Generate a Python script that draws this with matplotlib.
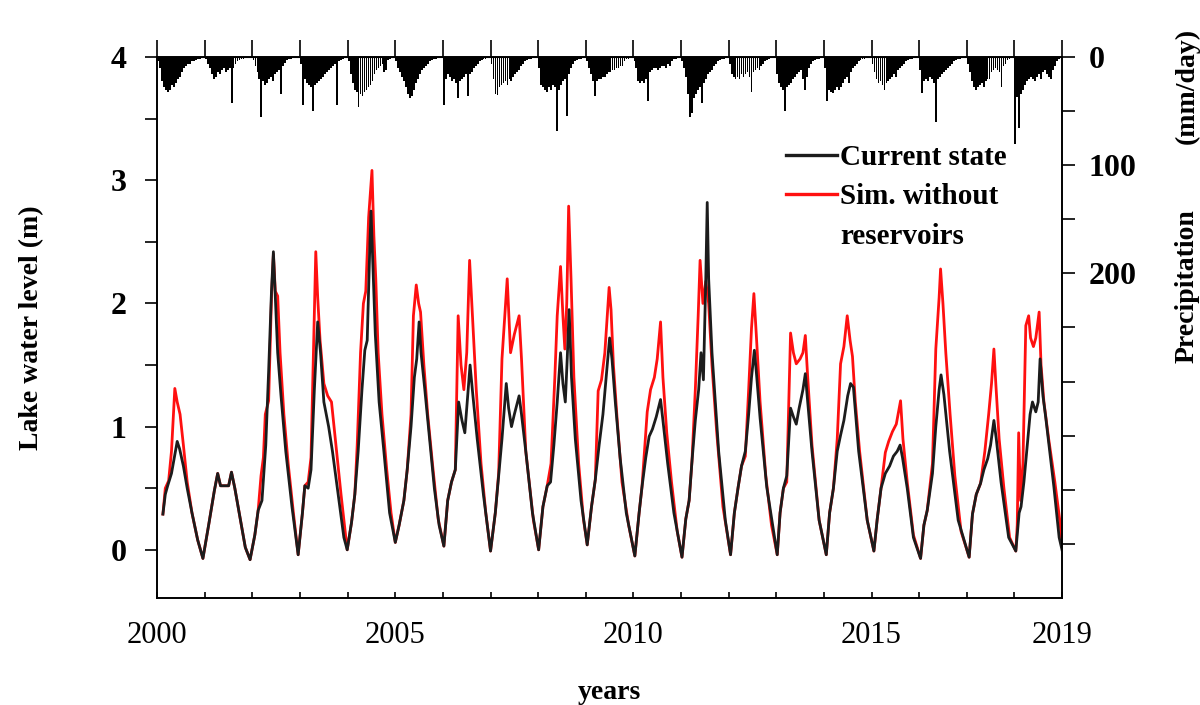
import numpy as np
import matplotlib.pyplot as plt
from matplotlib.lines import Line2D

plt.rcParams['font.family'] = ['Liberation Serif', 'DejaVu Serif']

# 湖泊水位（m）：现状
t_current = [
    2000.12, 2000.17, 2000.22, 2000.30, 2000.36, 2000.42, 2000.47, 2000.55, 2000.63, 2000.73, 2000.85, 2000.96,
    2001.08, 2001.20, 2001.27, 2001.33, 2001.50, 2001.56, 2001.63, 2001.73, 2001.85, 2001.95,
    2002.05, 2002.12, 2002.20, 2002.28, 2002.34, 2002.40, 2002.44, 2002.48, 2002.53, 2002.60, 2002.70, 2002.83, 2002.96,
    2003.05, 2003.10, 2003.17, 2003.23, 2003.30, 2003.37, 2003.43, 2003.50, 2003.60, 2003.68, 2003.80, 2003.92, 2003.99,
    2004.08, 2004.15, 2004.22, 2004.30, 2004.36, 2004.41, 2004.46, 2004.49, 2004.53, 2004.58, 2004.66, 2004.76, 2004.88, 2005.00,
    2005.08, 2005.18, 2005.25, 2005.33, 2005.40, 2005.45, 2005.50, 2005.54, 2005.62, 2005.72, 2005.82, 2005.92, 2006.02,
    2006.10, 2006.18, 2006.26, 2006.33, 2006.40, 2006.46, 2006.52, 2006.57, 2006.63, 2006.72, 2006.85, 2007.00,
    2007.10, 2007.17, 2007.24, 2007.33, 2007.38, 2007.44, 2007.50, 2007.60, 2007.65, 2007.74, 2007.88, 2008.01,
    2008.10, 2008.19, 2008.26, 2008.33, 2008.40, 2008.47, 2008.52, 2008.57, 2008.61, 2008.65, 2008.70, 2008.78, 2008.90, 2009.03,
    2009.12, 2009.20, 2009.28, 2009.36, 2009.44, 2009.50, 2009.55, 2009.62, 2009.72, 2009.85, 2010.03,
    2010.12, 2010.18, 2010.26, 2010.33, 2010.40, 2010.48, 2010.57, 2010.62, 2010.72, 2010.85, 2011.02,
    2011.10, 2011.17, 2011.23, 2011.30, 2011.37, 2011.42, 2011.47, 2011.52, 2011.55, 2011.58, 2011.65, 2011.79, 2011.93, 2012.04,
    2012.12, 2012.20, 2012.27, 2012.35, 2012.42, 2012.48, 2012.54, 2012.58, 2012.66, 2012.80, 2013.02,
    2013.08, 2013.15, 2013.22, 2013.30, 2013.36, 2013.42, 2013.48, 2013.56, 2013.61, 2013.66, 2013.75, 2013.90, 2014.05,
    2014.12, 2014.20, 2014.28, 2014.35, 2014.42, 2014.50, 2014.56, 2014.62, 2014.73, 2014.91, 2015.05,
    2015.12, 2015.20, 2015.29, 2015.38, 2015.46, 2015.54, 2015.60, 2015.65, 2015.75, 2015.88, 2016.03,
    2016.10, 2016.17, 2016.28, 2016.35, 2016.42, 2016.46, 2016.52, 2016.64, 2016.82, 2017.05,
    2017.12, 2017.20, 2017.29, 2017.36, 2017.44, 2017.50, 2017.57, 2017.62, 2017.72, 2017.88, 2018.03,
    2018.10, 2018.14, 2018.20, 2018.27, 2018.33, 2018.38, 2018.45, 2018.50, 2018.54, 2018.60, 2018.66, 2018.83, 2018.94, 2019.00,
]
level_current = [
    0.29, 0.45, 0.52, 0.62, 0.75, 0.88, 0.82, 0.68, 0.50, 0.30, 0.08, -0.07,
    0.20, 0.48, 0.62, 0.52, 0.52, 0.63, 0.50, 0.28, 0.02, -0.08,
    0.12, 0.32, 0.40, 0.85, 1.45, 2.10, 2.42, 2.05, 1.60, 1.25, 0.80, 0.35, -0.04,
    0.30, 0.52, 0.50, 0.65, 1.30, 1.85, 1.60, 1.20, 1.00, 0.80, 0.45, 0.10, 0.00,
    0.22, 0.45, 0.80, 1.30, 1.62, 1.70, 2.40, 2.75, 2.30, 1.75, 1.20, 0.80, 0.30, 0.06,
    0.20, 0.40, 0.65, 1.00, 1.40, 1.55, 1.85, 1.60, 1.30, 0.90, 0.50, 0.20, 0.03,
    0.40, 0.55, 0.65, 1.20, 1.05, 0.95, 1.25, 1.50, 1.25, 0.90, 0.45, -0.01,
    0.30, 0.60, 0.90, 1.35, 1.15, 1.00, 1.10, 1.25, 1.10, 0.80, 0.30, 0.00,
    0.35, 0.52, 0.55, 0.85, 1.20, 1.60, 1.35, 1.20, 1.55, 1.95, 1.40, 0.90, 0.40, 0.04,
    0.35, 0.57, 0.85, 1.10, 1.45, 1.72, 1.55, 1.20, 0.75, 0.30, -0.05,
    0.30, 0.51, 0.75, 0.92, 0.98, 1.08, 1.22, 1.05, 0.70, 0.30, -0.06,
    0.25, 0.40, 0.72, 1.05, 1.30, 1.60, 1.38, 2.20, 2.82, 2.20, 1.60, 0.80, 0.24, -0.04,
    0.30, 0.51, 0.68, 0.80, 1.10, 1.40, 1.62, 1.45, 1.07, 0.51, -0.04,
    0.30, 0.50, 0.60, 1.15, 1.08, 1.02, 1.15, 1.30, 1.43, 1.20, 0.80, 0.24, -0.04,
    0.30, 0.50, 0.80, 0.93, 1.05, 1.25, 1.35, 1.32, 0.80, 0.24, -0.01,
    0.25, 0.50, 0.62, 0.68, 0.76, 0.80, 0.85, 0.75, 0.50, 0.10, -0.07,
    0.20, 0.32, 0.62, 1.00, 1.30, 1.42, 1.26, 0.80, 0.24, -0.06,
    0.29, 0.45, 0.54, 0.65, 0.74, 0.85, 1.05, 0.90, 0.55, 0.10, -0.01,
    0.30, 0.35, 0.55, 0.85, 1.10, 1.20, 1.12, 1.20, 1.55, 1.25, 1.07, 0.51, 0.10, 0.00,
]

# 湖泊水位（m）：无水库情景模拟
t_sim = [
    2000.12, 2000.17, 2000.24, 2000.30, 2000.37, 2000.42, 2000.48, 2000.55, 2000.63, 2000.73, 2000.85, 2000.96,
    2001.08, 2001.20, 2001.27, 2001.33, 2001.50, 2001.56, 2001.63, 2001.73, 2001.85, 2001.95,
    2002.05, 2002.12, 2002.18, 2002.23, 2002.27, 2002.34, 2002.40, 2002.44, 2002.48, 2002.53, 2002.58, 2002.66, 2002.75, 2002.86, 2002.96,
    2003.05, 2003.10, 2003.17, 2003.23, 2003.28, 2003.33, 2003.37, 2003.42, 2003.50, 2003.58, 2003.66, 2003.74, 2003.86, 2003.99,
    2004.08, 2004.15, 2004.20, 2004.27, 2004.33, 2004.38, 2004.44, 2004.51, 2004.55, 2004.59, 2004.64, 2004.72, 2004.82, 2004.91, 2005.00,
    2005.08, 2005.18, 2005.25, 2005.33, 2005.38, 2005.44, 2005.49, 2005.53, 2005.60, 2005.68, 2005.78, 2005.90, 2006.02,
    2006.10, 2006.18, 2006.26, 2006.32, 2006.38, 2006.44, 2006.50, 2006.56, 2006.62, 2006.70, 2006.80, 2006.90, 2007.00,
    2007.10, 2007.17, 2007.24, 2007.35, 2007.42, 2007.50, 2007.60, 2007.65, 2007.74, 2007.90, 2008.01,
    2008.10, 2008.19, 2008.27, 2008.35, 2008.40, 2008.47, 2008.52, 2008.56, 2008.60, 2008.64, 2008.69, 2008.75, 2008.85, 2008.95, 2009.03,
    2009.12, 2009.20, 2009.26, 2009.33, 2009.40, 2009.49, 2009.53, 2009.58, 2009.66, 2009.76, 2009.90, 2010.03,
    2010.12, 2010.18, 2010.29, 2010.36, 2010.44, 2010.50, 2010.57, 2010.62, 2010.70, 2010.80, 2010.92, 2011.02,
    2011.10, 2011.17, 2011.23, 2011.30, 2011.36, 2011.40, 2011.46, 2011.52, 2011.58, 2011.65, 2011.75, 2011.88, 2012.04,
    2012.12, 2012.20, 2012.27, 2012.35, 2012.42, 2012.48, 2012.53, 2012.58, 2012.66, 2012.78, 2012.90, 2013.02,
    2013.08, 2013.15, 2013.22, 2013.30, 2013.36, 2013.42, 2013.50, 2013.56, 2013.61, 2013.66, 2013.75, 2013.90, 2014.05,
    2014.12, 2014.20, 2014.28, 2014.35, 2014.42, 2014.49, 2014.55, 2014.60, 2014.66, 2014.75, 2014.91, 2015.05,
    2015.12, 2015.20, 2015.29, 2015.36, 2015.44, 2015.52, 2015.61, 2015.66, 2015.75, 2015.88, 2016.03,
    2016.10, 2016.17, 2016.28, 2016.35, 2016.42, 2016.45, 2016.50, 2016.56, 2016.65, 2016.75, 2016.88, 2017.05,
    2017.12, 2017.20, 2017.29, 2017.38, 2017.46, 2017.52, 2017.57, 2017.61, 2017.68, 2017.78, 2017.90, 2018.03,
    2018.06, 2018.09, 2018.13, 2018.18, 2018.24, 2018.30, 2018.34, 2018.40, 2018.45, 2018.52, 2018.56, 2018.62, 2018.72, 2018.85, 2018.95, 2019.00,
]
level_sim = [
    0.29, 0.50, 0.56, 0.80, 1.31, 1.20, 1.10, 0.85, 0.55, 0.30, 0.08, -0.07,
    0.20, 0.48, 0.62, 0.52, 0.52, 0.63, 0.50, 0.28, 0.02, -0.08,
    0.12, 0.32, 0.60, 0.75, 1.10, 1.21, 2.05, 2.40, 2.10, 2.06, 1.60, 1.10, 0.70, 0.30, -0.04,
    0.30, 0.52, 0.55, 0.75, 1.60, 2.42, 2.05, 1.70, 1.35, 1.25, 1.20, 0.90, 0.45, 0.00,
    0.22, 0.45, 0.85, 1.60, 2.00, 2.10, 2.70, 3.08, 2.55, 2.20, 1.60, 1.10, 0.65, 0.30, 0.06,
    0.20, 0.40, 0.65, 1.10, 1.90, 2.15, 2.00, 1.93, 1.50, 1.10, 0.70, 0.25, 0.03,
    0.40, 0.55, 0.65, 1.90, 1.50, 1.30, 1.60, 2.35, 1.90, 1.30, 0.70, 0.30, -0.01,
    0.30, 0.62, 1.55, 2.20, 1.60, 1.75, 1.90, 1.55, 0.80, 0.24, 0.00,
    0.35, 0.52, 0.70, 1.40, 1.90, 2.30, 1.90, 1.63, 2.00, 2.79, 2.20, 1.40, 0.70, 0.25, 0.04,
    0.35, 0.57, 1.29, 1.38, 1.60, 2.13, 1.95, 1.50, 1.05, 0.55, 0.20, -0.05,
    0.30, 0.51, 1.12, 1.30, 1.40, 1.55, 1.85, 1.40, 0.95, 0.55, 0.15, -0.06,
    0.25, 0.40, 0.72, 1.30, 1.90, 2.35, 2.00, 2.18, 2.00, 1.50, 0.95, 0.35, -0.04,
    0.30, 0.51, 0.68, 0.76, 1.30, 1.80, 2.08, 1.75, 1.20, 0.60, 0.20, -0.04,
    0.30, 0.50, 0.55, 1.76, 1.60, 1.51, 1.55, 1.60, 1.74, 1.40, 0.85, 0.24, -0.04,
    0.30, 0.50, 0.90, 1.51, 1.65, 1.90, 1.70, 1.57, 1.20, 0.80, 0.24, -0.01,
    0.25, 0.50, 0.79, 0.88, 0.96, 1.02, 1.21, 0.90, 0.55, 0.12, -0.07,
    0.20, 0.32, 0.70, 1.63, 2.05, 2.28, 2.00, 1.60, 1.10, 0.60, 0.15, -0.06,
    0.29, 0.45, 0.54, 0.80, 1.10, 1.35, 1.63, 1.35, 0.90, 0.50, 0.10, -0.01,
    0.20, 0.95, 0.40, 0.70, 1.82, 1.90, 1.72, 1.65, 1.72, 1.93, 1.50, 1.20, 0.90, 0.55, 0.25, 0.05,
]

# 降水（mm/day），每年24个半月值
precip_years = list(range(2000, 2019))
precip_rows = [
    [4, 10, 22, 28, 30, 32, 30, 26, 28, 24, 20, 18, 14, 10, 8, 6, 6, 4, 4, 3, 2, 2, 1, 1],
    [2, 6, 10, 16, 20, 18, 14, 16, 12, 10, 14, 12, 10, 42, 10, 6, 4, 3, 2, 2, 1, 1, 1, 1],
    [3, 8, 14, 20, 55, 22, 26, 24, 20, 18, 22, 16, 14, 12, 34, 8, 5, 3, 2, 2, 1, 1, 1, 1],
    [6, 44, 20, 24, 26, 28, 50, 26, 24, 22, 20, 18, 16, 14, 12, 10, 8, 6, 44, 4, 3, 2, 1, 1],
    [4, 16, 24, 30, 32, 46, 34, 36, 32, 30, 28, 26, 22, 16, 12, 10, 8, 6, 14, 12, 3, 2, 1, 1],
    [4, 10, 14, 18, 22, 28, 34, 38, 36, 30, 24, 20, 16, 12, 10, 8, 6, 4, 3, 2, 2, 1, 1, 1],
    [44, 20, 16, 18, 22, 20, 24, 38, 22, 20, 18, 16, 36, 16, 14, 10, 8, 6, 4, 3, 2, 2, 1, 1],
    [6, 20, 34, 35, 28, 26, 24, 22, 26, 20, 22, 18, 16, 14, 12, 8, 6, 4, 3, 2, 2, 1, 1, 1],
    [10, 26, 28, 30, 32, 28, 30, 26, 28, 68, 30, 26, 22, 20, 54, 16, 10, 6, 4, 3, 2, 2, 1, 1],
    [4, 10, 16, 22, 36, 22, 20, 20, 18, 18, 16, 14, 14, 12, 12, 10, 10, 8, 8, 4, 2, 2, 1, 1],
    [4, 10, 22, 24, 22, 24, 20, 41, 14, 12, 10, 10, 12, 10, 8, 8, 10, 6, 8, 4, 2, 2, 1, 1],
    [4, 10, 18, 34, 55, 52, 38, 34, 30, 28, 42, 24, 20, 16, 14, 12, 8, 6, 4, 3, 2, 2, 1, 1],
    [6, 16, 18, 20, 18, 20, 16, 18, 16, 14, 18, 32, 14, 12, 10, 12, 8, 6, 4, 3, 2, 1, 1, 1],
    [16, 24, 28, 30, 50, 28, 26, 24, 20, 18, 16, 14, 12, 20, 30, 18, 10, 6, 4, 3, 2, 2, 1, 1],
    [10, 41, 30, 32, 33, 30, 28, 30, 28, 24, 20, 18, 24, 14, 10, 8, 6, 4, 3, 2, 2, 1, 1, 1],
    [6, 14, 20, 24, 22, 26, 30, 24, 22, 20, 18, 16, 18, 12, 10, 8, 6, 4, 3, 2, 2, 1, 1, 1],
    [12, 33, 22, 20, 22, 18, 20, 24, 60, 20, 18, 16, 14, 12, 10, 8, 6, 4, 3, 2, 2, 1, 1, 1],
    [6, 14, 22, 28, 30, 28, 26, 24, 28, 22, 20, 20, 14, 12, 10, 12, 14, 28, 8, 6, 3, 2, 1, 1],
    [80, 37, 66, 34, 30, 26, 22, 20, 18, 20, 22, 18, 16, 20, 14, 12, 16, 18, 20, 12, 8, 4, 2, 1],
]

# 半月时段中心
t_precip = np.array([y + (i + 0.5) / 24 for y in precip_years for i in range(24)])
precip = np.array(precip_rows).ravel()

fig = plt.figure(figsize=(12, 7.05), dpi=100)
ax = fig.add_axes([0.131, 0.152, 0.754, 0.767])

ax.plot(t_sim, level_sim, color='#ff1010', lw=2.0)
ax.plot(t_current, level_current, color='#1c1c1c', lw=2.0)

ax.set_xlim(2000, 2019)
ax.set_ylim(-0.39, 4.0)

# 左轴
ax.set_yticks([0, 1, 2, 3, 4])
ax.set_yticks(np.arange(0.5, 4, 1.0), minor=True)
ax.tick_params(axis='y', which='both', direction='out', length=9, width=1.2, pad=13)
for lab in ax.get_yticklabels():
    lab.set_fontsize(23)
    lab.set_fontweight('bold')

# 下轴
ax.set_xticks([2000, 2005, 2010, 2015, 2019])
ax.set_xticks(range(2000, 2020), minor=True)
ax.tick_params(axis='x', which='both', direction='in', length=4, width=1.2, pad=17, labelsize=22)

# 上轴：逐年刻度
top = ax.secondary_xaxis('top')
top.set_xticks(range(2000, 2020))
top.tick_params(direction='out', length=12, width=1.2, labeltop=False)

for s in ax.spines.values():
    s.set_linewidth(1.2)

ax.set_ylabel('Lake water level (m)', fontsize=20, fontweight='bold')
ax.yaxis.set_label_coords(-0.125, 0.5)
ax.set_xlabel('years', fontsize=20, fontweight='bold')
ax.xaxis.set_label_coords(0.5, -0.152)

# 右轴：降水倒置柱
ax2 = ax.twinx()
ax2.bar(t_precip, precip, width=1 / 24 * 0.9, color='black', align='center', linewidth=0)
ax2.set_ylim(500, 0)
ax2.set_yticks(np.arange(0, 500, 50))
ax2.set_yticklabels(['0', '', '100', '', '200', '', '', '', '', ''])
ax2.tick_params(axis='y', direction='out', length=9, width=1.2, pad=10)
for lab in ax2.get_yticklabels():
    lab.set_fontsize(23)
    lab.set_fontweight('bold')
for s in ax2.spines.values():
    s.set_linewidth(1.2)

fig.text(1187 / 1200, 1 - 286 / 705, 'Precipitation', rotation=90, ha='center', va='center',
         fontsize=20, fontweight='bold')
fig.text(1187 / 1200, 1 - 86 / 705, '(mm/day)', rotation=90, ha='center', va='center',
         fontsize=20, fontweight='bold')

# 图例
handles = [Line2D([], [], color='#1c1c1c', lw=2.4),
           Line2D([], [], color='#ff1010', lw=2.4),
           Line2D([], [], color='none')]
labels = ['Current state', 'Sim. without', 'reservoirs']
leg = ax.legend(handles, labels, loc='upper left', bbox_to_anchor=(786 / 1200, 1 - 144 / 705),
                bbox_transform=fig.transFigure, frameon=False, handlelength=1.75,
                handletextpad=0.1, labelspacing=0.42, borderpad=0, borderaxespad=0,
                prop={'size': 21, 'weight': 'bold'})

fig.savefig('out.png', dpi=100)
